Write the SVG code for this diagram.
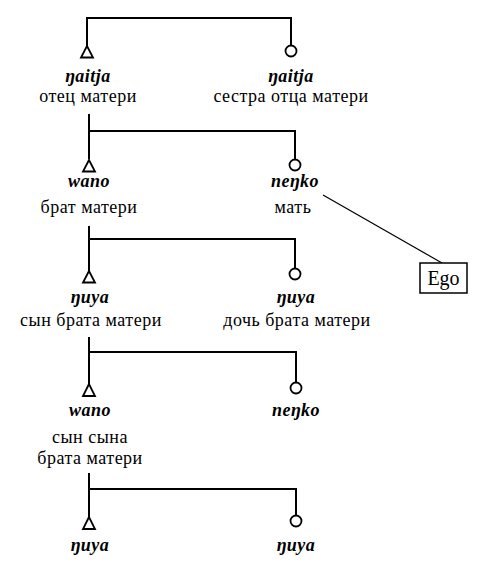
<svg xmlns="http://www.w3.org/2000/svg" width="493" height="574" viewBox="0 0 493 574">
<style>
.ln{stroke:#000;stroke-width:2;fill:none}
.thin{stroke:#000;stroke-width:1.2;fill:none}
.sym{stroke:#000;stroke-width:1.8;fill:#fff}
text{font-family:"Liberation Serif","DejaVu Serif",serif;font-size:18px;letter-spacing:0.5px;fill:#000;text-anchor:middle}
.it{font-style:italic;font-weight:bold}
.ego{font-size:20px;letter-spacing:0}
</style>
<rect width="493" height="574" fill="#fff"/>
<g id="connectors">
<path class="ln" d="M87,46 V18 H291 V46"/>
<path class="ln" d="M89,114 V159"/>
<path class="ln" d="M89,131 H295 V160"/>
<path class="ln" d="M89,226 V271"/>
<path class="ln" d="M89,239 H295 V269"/>
<path class="ln" d="M89,337 V384"/>
<path class="ln" d="M89,352 H296 V383"/>
<path class="ln" d="M89,473 V517"/>
<path class="ln" d="M89,489 H296 V516"/>
<path class="thin" d="M323,195 L442,263"/>
</g>
<g id="n1"><path class="sym" d="M87,46 L81,57.5 H93 Z"/><text class="it" x="88" y="82">ŋaitja</text><text x="88" y="102">отец матери</text></g>
<g id="n2"><circle class="sym" cx="291" cy="51" r="5.5"/><text class="it" x="291" y="82">ŋaitja</text><text x="291" y="102">сестра отца матери</text></g>
<g id="n3"><path class="sym" d="M89,160 L83,171.5 H95 Z"/><text class="it" x="89" y="187">wano</text><text x="89" y="213">брат матери</text></g>
<g id="n4"><circle class="sym" cx="295" cy="165" r="5.5"/><text class="it" x="295" y="187">neŋko</text><text x="293" y="213">мать</text></g>
<g id="ego"><rect x="420" y="263" width="47" height="30" fill="#fff" stroke="#000" stroke-width="1.5"/><text class="ego" x="443.5" y="285">Ego</text></g>
<g id="n5"><path class="sym" d="M89,271 L83,282.5 H95 Z"/><text class="it" x="90" y="303">ŋuya</text><text x="91" y="326">сын брата матери</text></g>
<g id="n6"><circle class="sym" cx="295" cy="274" r="5.5"/><text class="it" x="296" y="303">ŋuya</text><text x="297" y="326">дочь брата матери</text></g>
<g id="n7"><path class="sym" d="M89,384 L83,396 H95 Z"/><text class="it" x="90" y="416">wano</text><text x="90" y="443">сын сына</text><text x="90" y="464">брата матери</text></g>
<g id="n8"><circle class="sym" cx="296" cy="388" r="5.5"/><text class="it" x="296" y="416">neŋko</text></g>
<g id="n9"><path class="sym" d="M89,517 L83,529 H95 Z"/><text class="it" x="90" y="551">ŋuya</text></g>
<g id="n10"><circle class="sym" cx="296" cy="521" r="5.5"/><text class="it" x="296" y="551">ŋuya</text></g>
</svg>
